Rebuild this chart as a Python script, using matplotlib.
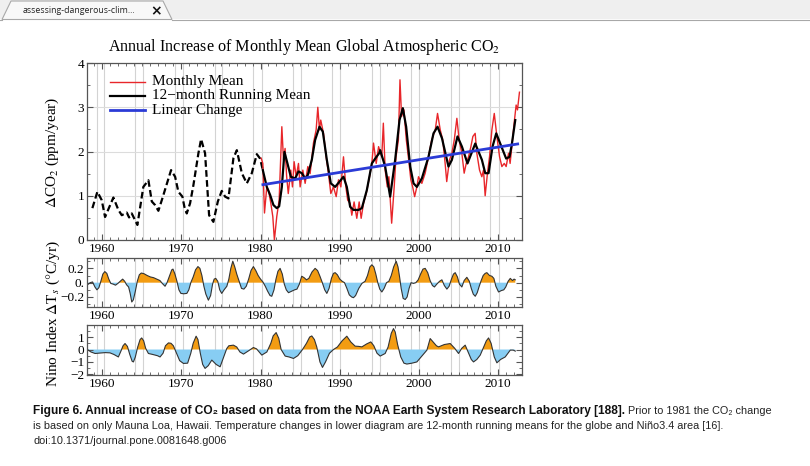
import matplotlib
matplotlib.use('Agg')
import matplotlib.pyplot as plt
from matplotlib.patches import Polygon, Rectangle
from matplotlib.ticker import MultipleLocator, FixedLocator, FixedFormatter

plt.rcParams['mathtext.fontset'] = 'stix'
serif = ['Liberation Serif', 'DejaVu Serif']

# ---- CO2 growth, Mauna Loa 12-month running mean (dashed, before 1981)
mlo_years = [1958.78, 1959.41, 1959.96, 1960.38, 1961.43, 1962.06, 1962.49, 1963.12,
             1963.41, 1963.75, 1964.46, 1965.21, 1965.85, 1966.28, 1966.69, 1967.11,
             1967.61, 1968.71, 1969.22, 1969.63, 1970.14, 1970.39, 1970.69, 1971.11,
             1971.53, 1972.16, 1972.5, 1973.0, 1973.51, 1974.05, 1974.61, 1975.11,
             1975.53, 1975.95, 1976.58, 1977.01, 1977.64, 1978.27, 1978.9, 1979.53,
             1979.95, 1980.29]
mlo_run = [0.72, 1.09, 0.90, 0.52, 0.96, 0.68, 0.56, 0.62,
           0.51, 0.60, 0.34, 1.20, 1.35, 0.87, 0.79, 0.66,
           0.94, 1.58, 1.43, 1.09, 0.98, 0.75, 0.60, 0.83,
           1.24, 1.96, 2.28, 1.96, 0.56, 0.41, 0.87, 1.11,
           0.98, 0.94, 1.85, 2.03, 1.51, 1.28, 1.51, 1.94,
           1.84, 1.58]

# ---- global CO2 growth, 12-month running mean (solid)
run_years = [1980.29, 1980.79, 1981.21, 1981.63, 1982.05, 1982.35, 1982.69, 1983.02,
             1983.40, 1983.82, 1984.37, 1984.79, 1985.21, 1985.63, 1985.97, 1986.47,
             1986.89, 1987.44, 1987.86, 1988.37, 1988.87, 1989.42, 1989.97, 1990.47,
             1990.89, 1991.31, 1991.73, 1992.37, 1992.79, 1993.42, 1994.05, 1994.47,
             1994.97, 1995.1, 1995.73, 1996.36, 1996.99, 1997.54, 1997.96, 1998.38,
             1998.89, 1999.31, 1999.73, 2000.36, 2001.2, 2001.83, 2002.34, 2002.9,
             2003.72, 2004.15, 2004.86, 2005.42, 2006.12, 2007.1, 2007.94, 2008.36,
             2008.78, 2009.28, 2009.75, 2010.25, 2011.0, 2011.43, 2011.73, 2012.15]
run_mean = [1.58, 1.20, 1.02, 0.79, 0.72, 0.76, 1.20, 1.99,
            1.73, 1.43, 1.39, 1.55, 1.51, 1.39, 1.47, 1.81,
            2.26, 2.56, 2.45, 1.81, 1.28, 1.20, 1.32, 1.43,
            1.20, 0.75, 0.68, 0.68, 0.72, 1.13, 1.73, 1.84,
            1.96, 2.03, 1.66, 0.98, 1.81, 2.71, 2.98, 2.56,
            1.66, 1.28, 1.20, 1.39, 1.88, 2.41, 2.56, 2.30,
            1.66, 1.81, 2.34, 2.11, 1.73, 2.18, 1.81, 1.51,
            1.51, 2.11, 2.41, 2.18, 1.84, 1.88, 2.18, 2.71]

# ---- global CO2 growth, monthly mean
month_years = [1980.08, 1980.29, 1980.5, 1980.79, 1981.0, 1981.3, 1981.55, 1981.75,
               1982.05, 1982.35, 1982.69, 1982.9, 1983.1, 1983.3, 1983.5, 1983.82,
               1984.03, 1984.24, 1984.5, 1984.79, 1985.0, 1985.34, 1985.63, 1985.97,
               1986.26, 1986.68, 1987.02, 1987.23, 1987.44, 1987.6, 1987.95, 1988.28,
               1988.57, 1988.87, 1989.2, 1989.55, 1989.84, 1990.14, 1990.47, 1990.77,
               1991.0, 1991.31, 1991.52, 1991.81, 1992.15, 1992.45, 1992.7, 1993.0,
               1993.34, 1993.76, 1994.05, 1994.26, 1994.6, 1994.9, 1995.3, 1995.5,
               1995.73, 1996.0, 1996.2, 1996.55, 1996.87, 1997.1, 1997.4, 1997.6,
               1997.8, 1998.1, 1998.4, 1998.7, 1998.97, 1999.2, 1999.45, 1999.73,
               1999.94, 2000.36, 2000.78, 2001.2, 2001.6, 2002.05, 2002.34, 2002.68,
               2003.0, 2003.3, 2003.5, 2003.85, 2004.15, 2004.45, 2004.78, 2005.07,
               2005.41, 2005.7, 2005.96, 2006.25, 2006.55, 2006.8, 2007.09, 2007.3,
               2007.64, 2007.93, 2008.14, 2008.35, 2008.64, 2008.9, 2009.2, 2009.5,
               2009.83, 2010.17, 2010.46, 2010.76, 2011.0, 2011.3, 2011.5, 2011.8,
               2012.05, 2012.26, 2012.43, 2012.68]
month_mean = [1.85, 1.73, 0.61, 1.20, 1.13, 0.83, 0.53, 0.00,
              0.53, 0.90, 2.56, 1.81, 2.07, 1.43, 1.05, 1.58,
              1.20, 1.77, 1.43, 1.73, 1.20, 1.58, 1.28, 1.66,
              1.50, 2.19, 2.49, 3.00, 2.49, 2.71, 2.41, 1.88,
              1.51, 1.05, 1.20, 0.98, 1.36, 1.20, 1.88, 1.20,
              0.90, 0.83, 0.56, 0.86, 0.49, 0.86, 0.49, 0.83,
              1.05, 1.43, 1.73, 2.19, 1.73, 2.11, 1.88, 2.64,
              1.58, 1.20, 1.43, 0.38, 1.20, 1.88, 2.26, 3.62,
              2.79, 2.94, 2.26, 1.81, 1.36, 1.20, 0.98, 1.20,
              1.43, 1.28, 1.51, 1.88, 2.26, 2.49, 2.86, 2.49,
              2.26, 1.73, 1.32, 1.81, 1.96, 2.26, 2.75, 2.26,
              1.96, 1.51, 1.73, 1.88, 2.11, 2.34, 2.41, 1.96,
              1.58, 1.43, 1.58, 1.00, 1.51, 1.88, 2.49, 2.86,
              2.34, 1.88, 1.66, 1.73, 1.66, 1.96, 1.73, 2.26,
              2.71, 3.05, 2.94, 3.34]

# ---- linear fit end points
lin_years = [1980.3, 2012.45]
lin_vals = [1.25, 2.17]

# ---- global temperature change (12-month running mean), degC/yr
temp_years = [1958.15, 1958.5, 1958.8, 1959.1, 1959.35, 1959.6, 1959.85, 1960.1, 1960.35,
              1960.6, 1960.85, 1961.1, 1961.4, 1961.7, 1962.0, 1962.3, 1962.6, 1962.85,
              1963.1, 1963.35, 1963.55, 1963.75, 1963.95, 1964.2, 1964.45, 1964.7,
              1964.95, 1965.3, 1965.7, 1966.1, 1966.5, 1966.9, 1967.3, 1967.6, 1967.95,
              1968.2, 1968.5, 1968.8, 1968.95, 1969.2, 1969.45, 1969.7, 1969.95, 1970.3,
              1970.7, 1970.95, 1971.2, 1971.5, 1971.8, 1972.1, 1972.35, 1972.6, 1972.85,
              1973.1, 1973.42, 1973.7, 1973.95, 1974.15, 1974.35, 1974.6, 1974.85,
              1975.1, 1975.4, 1975.75, 1976.0, 1976.25, 1976.5, 1976.75, 1977.0, 1977.3,
              1977.6, 1977.9, 1978.2, 1978.5, 1978.8, 1979.1, 1979.4, 1979.7, 1980.0,
              1980.3, 1980.6, 1980.9, 1981.2, 1981.42, 1981.7, 1981.95, 1982.2, 1982.47,
              1982.75, 1983.0, 1983.25, 1983.53, 1983.9, 1984.3, 1984.6, 1984.9, 1985.2,
              1985.5, 1985.8, 1986.1, 1986.5, 1986.89, 1987.2, 1987.5, 1987.8, 1988.1,
              1988.37, 1988.65, 1988.95, 1989.2, 1989.42, 1989.7, 1990.0, 1990.3, 1990.6,
              1990.9, 1991.2, 1991.5, 1991.73, 1992.0, 1992.4, 1992.8, 1993.2, 1993.5,
              1993.8, 1994.05, 1994.3, 1994.55, 1994.8, 1995.05, 1995.31, 1995.6, 1995.9,
              1996.2, 1996.5, 1996.8, 1997.12, 1997.35, 1997.55, 1997.75, 1998.0,
              1998.26, 1998.5, 1998.75, 1999.0, 1999.3, 1999.6, 1999.9, 2000.2, 2000.5,
              2000.78, 2001.1, 2001.4, 2001.7, 2001.95, 2002.25, 2002.6, 2002.89, 2003.2,
              2003.52, 2003.8, 2004.1, 2004.35, 2004.57, 2004.85, 2005.1, 2005.41,
              2005.7, 2006.04, 2006.35, 2006.6, 2006.85, 2007.1, 2007.35, 2007.6,
              2007.85, 2008.1, 2008.35, 2008.57, 2008.9, 2009.2, 2009.45, 2009.7,
              2010.04, 2010.4, 2010.7, 2010.95, 2011.25, 2011.52, 2011.8, 2012.0, 2012.15]
temp_rate = [-0.03, 0.0, 0.01, -0.06, -0.10, -0.07, 0.02, 0.12, 0.155,
             0.13, 0.05, -0.01, -0.02, -0.035, -0.01, 0.02, 0.05, 0.02,
             -0.03, -0.06, -0.15, -0.27, -0.24, -0.12, 0.02, 0.11,
             0.135, 0.125, 0.10, 0.08, 0.07, 0.05, 0.03, -0.01, -0.05,
             0.0, 0.09, 0.18, 0.19, 0.12, 0.02, -0.10, -0.15, -0.155,
             -0.15, -0.10, 0.0, 0.08, 0.18, 0.225, 0.20, 0.10, -0.05,
             -0.16, -0.245, -0.18, -0.02, 0.05, 0.06, 0.02, -0.10,
             -0.15, -0.10, -0.05, 0.05, 0.20, 0.30, 0.22, 0.12, 0.02,
             -0.08, -0.09, -0.05, 0.05, 0.17, 0.225, 0.17, 0.10, 0.05,
             0.01, -0.05, -0.12, -0.18, -0.19, -0.10, 0.05, 0.16, 0.20,
             0.12, -0.02, -0.10, -0.14, -0.12, -0.10, -0.09, -0.02, 0.09,
             0.07, 0.04, 0.06, 0.15, 0.20, 0.17, 0.09, 0.0, -0.10,
             -0.15, -0.08, 0.06, 0.13, 0.14, 0.11, 0.05, 0.02, 0.0,
             -0.08, -0.17, -0.20, -0.21, -0.18, -0.08, -0.01, 0.02, 0.10,
             0.22, 0.25, 0.22, 0.12, 0.0, -0.09, -0.13, -0.08, 0.0,
             0.02, 0.10, 0.22, 0.30, 0.22, 0.08, -0.08, -0.22,
             -0.235, -0.20, -0.08, 0.0, -0.01, 0.0, 0.04, 0.12, 0.19,
             0.20, 0.14, 0.03, -0.04, -0.06, -0.02, 0.02, 0.04, -0.04,
             -0.09, -0.05, 0.05, 0.12, 0.14, 0.08, -0.02, -0.06,
             0.03, 0.075, 0.02, -0.08, -0.16, -0.19, -0.14, -0.05,
             0.03, 0.10, 0.13, 0.14, 0.10, 0.09, 0.06, -0.05,
             -0.13, -0.11, -0.10, -0.06, 0.02, 0.06, 0.03, 0.05, 0.04]

# ---- Nino3.4 index (12-month running mean)
nino_years = [1958.15, 1958.6, 1959.12, 1959.8, 1960.4, 1961.0, 1961.5, 1962.06, 1962.4,
              1962.65, 1962.9, 1963.2, 1963.5, 1963.8, 1963.96, 1964.2, 1964.5, 1964.8,
              1965.0, 1965.25, 1965.5, 1965.85, 1966.4, 1967.0, 1967.32, 1967.7, 1968.0,
              1968.38, 1968.7, 1969.0, 1969.4, 1969.8, 1970.27, 1970.8, 1971.2, 1971.5,
              1971.87, 1972.1, 1972.4, 1972.7, 1973.0, 1973.4, 1973.85, 1974.4, 1974.9,
              1975.3, 1975.74, 1976.0, 1976.58, 1977.0, 1977.4, 1977.85, 1978.5, 1979.1,
              1979.5, 1980.16, 1980.8, 1981.3, 1981.6, 1981.97, 1982.3, 1982.6, 1983.11,
              1983.6, 1984.16, 1984.7, 1985.3, 1985.8, 1986.2, 1986.47, 1986.8, 1987.1,
              1987.5, 1987.82, 1988.2, 1988.7, 1989.21, 1989.7, 1990.3, 1990.89, 1991.4,
              1991.94, 1992.4, 1992.79, 1993.4, 1993.92, 1994.3, 1994.7, 1995.1, 1995.73,
              1996.1, 1996.5, 1996.78, 1997.0, 1997.3, 1997.7, 1998.1, 1998.47, 1999.1,
              1999.73, 2000.4, 2001.0, 2001.41, 2001.8, 2002.2, 2002.47, 2003.2, 2003.94,
              2004.5, 2004.99, 2005.4, 2005.83, 2006.2, 2006.6, 2006.88, 2007.3, 2007.73,
              2008.1, 2008.5, 2008.78, 2009.1, 2009.5, 2009.83, 2010.3, 2010.88, 2011.52,
              2011.9, 2012.15]
nino_index = [0.0, -0.2, -0.32, -0.28, -0.25, -0.27, -0.4, -0.6, -0.1,
              0.3, 0.48, 0.25, -0.4, -0.95, -1.0, -0.6, 0.2, 0.8,
              0.93, 0.7, 0.1, -0.32, -0.4, -0.5, -0.6, -0.3, 0.3,
              0.53, 0.5, 0.3, -0.3, -0.9, -1.12, -1.1, -0.3, 0.5,
              1.07, 0.8, -0.3, -1.2, -1.52, -1.3, -0.85, -1.2, -1.39,
              -0.7, 0.08, 0.3, 0.35, 0.2, -0.2, -0.37, -0.1, 0.16,
              0.05, -0.45, -0.2, 0.5, 1.1, 1.36, 0.9, 0.0, -0.53,
              -0.6, -0.72, -0.5, 0.0, 0.5, 1.0, 1.09, 0.8, 0.2,
              -1.0, -1.44, -1.0, -0.3, 0.0, 0.2, 0.7, 1.07, 0.6,
              0.27, 0.25, 0.21, 0.45, 0.61, 0.3, -0.3, -0.53, -0.32,
              0.2, 1.3, 1.68, 1.4, 0.4, -0.6, -1.1, -1.17, -1.1,
              -1.0, -0.5, -0.05, 0.88, 0.6, 0.3, 0.21, 0.4, 0.48,
              0.1, -0.32, 0.1, 0.35, -0.2, -0.8, -1.0, -0.8, -0.45,
              0.1, 0.7, 0.93, 0.5, -0.6, -1.07, -0.8, -0.6, -0.05,
              -0.05, -0.13]

grid_years = [1959.3, 1960.2, 1964.2, 1965.2, 1969.2, 1970.2, 1974.2, 1975.2,
              1979.1, 1980.2, 1984.1, 1985.1, 1989.0, 1990.05, 1994.05, 1995.1,
              1999.0, 2000.0, 2004.0, 2005.0, 2009.0, 2010.1]

W, H = 810, 466
fig = plt.figure(figsize=(W / 100, H / 100), dpi=100)


def box(x0, y0, x1, y1):
    return [x0 / W, 1 - y1 / H, (x1 - x0) / W, (y1 - y0) / H]


# page background: browser tab + caption
bg = fig.add_axes([0, 0, 1, 1])
bg.set_xlim(0, W)
bg.set_ylim(H, 0)
bg.axis('off')
bg.add_patch(Rectangle((0, 0), W, 19, fc='#efefef', ec='none'))
bg.add_patch(Polygon([[2, 19.5], [11, 1], [163, 1], [172, 19.5]], closed=True,
                     fc='#f8f8f8', ec='#a8a8a8', lw=0.8))
bg.plot([0, 2], [19.5, 19.5], color='#a8a8a8', lw=0.8)
bg.plot([172, W], [19.5, 19.5], color='#a8a8a8', lw=0.8)
bg.text(23, 10.5, 'assessing-dangerous-clim...', fontsize=6.3, va='center',
        family=['Open Sans', 'DejaVu Sans'], color='#222222')
bg.text(156, 11, '\u00d7', fontsize=10, va='center', ha='center', fontweight='bold',
        family='DejaVu Sans', color='#111111')

cap_font = ['Liberation Sans', 'DejaVu Sans']
t1 = bg.text(33, 411, 'Figure 6. Annual increase of CO\u2082 based on data from the NOAA Earth '
             'System Research Laboratory [188].', fontsize=8.55, fontweight='bold',
             va='center', family=cap_font, color='#111111')
fig.canvas.draw()
bb = t1.get_window_extent()
bg.text(33 + bb.width + 3, 411, 'Prior to 1981 the CO\u2082 change', fontsize=7.8,
        va='center', family=cap_font, color='#222222')
bg.text(33, 426, 'is based on only Mauna Loa, Hawaii. Temperature changes in lower diagram '
        'are 12-month running means for the globe and Ni\u00f1o3.4 area [16].',
        fontsize=7.8, va='center', family=cap_font, color='#222222')
bg.text(33, 441, 'doi:10.1371/journal.pone.0081648.g006', fontsize=7.8,
        va='center', family=cap_font, color='#222222')

frame_col = '#555555'
tick_fs = 9.5
orange = '#f39c12'
sky = '#87cdf3'


def style(ax, ylim):
    ax.set_xlim(1958.1, 2013.0)
    ax.set_ylim(*ylim)
    for gy in grid_years:
        ax.axvline(gy, color='#d3d3d3', lw=0.8, zorder=0)
    ax.xaxis.set_major_locator(MultipleLocator(10))
    ax.xaxis.set_minor_locator(MultipleLocator(1))
    ax.tick_params(which='both', direction='in', top=True, right=True, color=frame_col,
                   labelsize=tick_fs, pad=2)
    ax.tick_params(which='major', length=4, width=0.8)
    ax.tick_params(which='minor', length=2, width=0.6)
    for sp in ax.spines.values():
        sp.set_color(frame_col)
        sp.set_linewidth(0.9)


def serif_labels(ax):
    for lab in ax.get_xticklabels() + ax.get_yticklabels():
        lab.set_family(serif)


# ---- top panel
ax1 = fig.add_axes(box(87, 63, 522, 240))
style(ax1, (0, 4))
ax1.yaxis.set_major_locator(MultipleLocator(1))
ax1.yaxis.set_minor_locator(MultipleLocator(0.5))
for hv in [1, 2, 3]:
    ax1.axhline(hv, color='#dcdcdc', lw=0.8, zorder=0)
ax1.plot(mlo_years, mlo_run, color='black', lw=1.6, dashes=(3, 1.5))
ax1.plot(month_years, month_mean, color='#e8262a', lw=1.0)
ax1.plot(run_years, run_mean, color='black', lw=1.6)
ax1.plot(lin_years, lin_vals, color='#2b3bd6', lw=2.0)
serif_labels(ax1)

legend_rows = [('Monthly Mean', '#e8262a', 1.0), ('12\u2212month Running Mean', 'black', 1.6),
               ('Linear Change', '#2b3bd6', 2.0)]
for i, (name, col, lw) in enumerate(legend_rows):
    yy = 0.894 - i * 0.080
    ax1.plot([0.053, 0.133], [yy, yy], color=col, lw=lw, transform=ax1.transAxes)
    ax1.text(0.149, yy, name, transform=ax1.transAxes, va='center', fontsize=11,
             family=serif)

fig.text(304 / W, 1 - 47 / H, r'Annual Increase of Monthly Mean Global Atmospheric CO$_2$',
         ha='center', va='center', fontsize=11.6, family=serif)
fig.text(52 / W, 1 - 152 / H, r'$\Delta$CO$_2$ (ppm/year)', rotation=90, ha='center',
         va='center', fontsize=11, family=serif)

# ---- middle panel: temperature change
ax2 = fig.add_axes(box(87, 258, 522, 307))
style(ax2, (-0.34, 0.345))
ax2.yaxis.set_major_locator(FixedLocator([-0.2, 0.0, 0.2]))
ax2.yaxis.set_major_formatter(FixedFormatter(['\u22120.2', '0.', '0.2']))
ax2.yaxis.set_minor_locator(FixedLocator([-0.3, -0.1, 0.1, 0.3]))
ax2.fill_between(temp_years, temp_rate, 0, where=[v >= 0 for v in temp_rate],
                 interpolate=True, color=orange, lw=0)
ax2.fill_between(temp_years, temp_rate, 0, where=[v <= 0 for v in temp_rate],
                 interpolate=True, color=sky, lw=0)
ax2.plot(temp_years, temp_rate, color='#333333', lw=0.8)
serif_labels(ax2)

# ---- bottom panel: Nino index
ax3 = fig.add_axes(box(87, 325, 522, 375))
style(ax3, (-2.05, 1.97))
ax3.yaxis.set_major_locator(FixedLocator([-2, -1, 0, 1, 2]))
ax3.yaxis.set_major_formatter(FixedFormatter(['\u22122', '\u22121', '0', '1', '2']))
ax3.yaxis.set_minor_locator(MultipleLocator(0.5))
ax3.fill_between(nino_years, nino_index, 0, where=[v >= 0 for v in nino_index],
                 interpolate=True, color=orange, lw=0)
ax3.fill_between(nino_years, nino_index, 0, where=[v <= 0 for v in nino_index],
                 interpolate=True, color=sky, lw=0)
ax3.plot(nino_years, nino_index, color='#333333', lw=0.8)
serif_labels(ax3)

fig.text(53 / W, 1 - 314 / H, r'Nino Index $\Delta$T$_s$ ($\degree$C/yr)', rotation=90,
         ha='center', va='center', fontsize=11, family=serif)

fig.savefig('out.png', dpi=100)
